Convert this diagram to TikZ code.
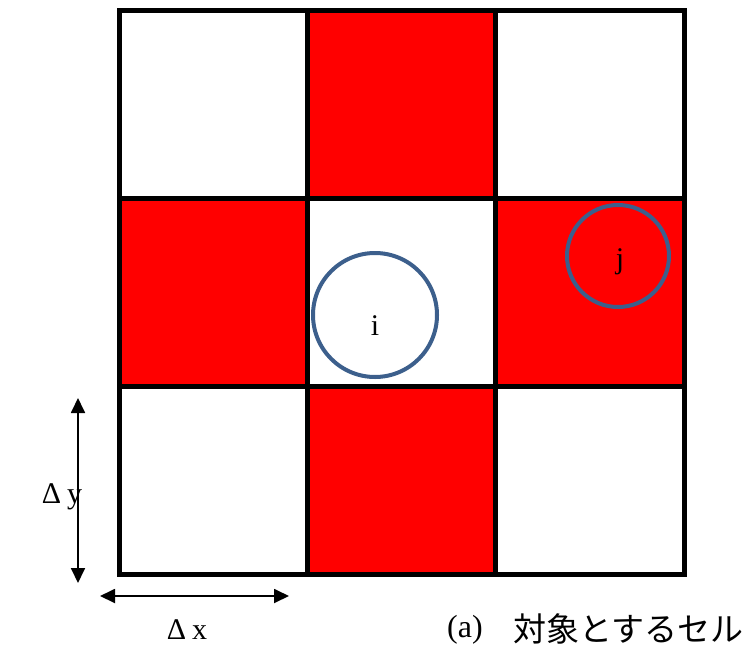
\documentclass[tikz,border=0pt]{standalone}
\usepackage{fontspec}
\setmainfont{Liberation Serif}
\newfontfamily\cjk{Noto Sans CJK JP}
\usetikzlibrary{arrows.meta}
\definecolor{cellred}{RGB}{255,0,0}
\definecolor{ringblue}{RGB}{60,95,140}
\begin{document}
\begin{tikzpicture}[x=1pt,y=-1pt,
  gridline/.style={line width=5pt,line join=miter},
  ring/.style={draw=ringblue,line width=4pt},
  dimarrow/.style={line width=1.8pt,{Triangle[length=15pt,width=14pt]}-{Triangle[length=15pt,width=14pt]}},
  lbl/.style={font=\fontsize{30}{34}\selectfont,inner sep=0pt}]
\useasboundingbox (0,0) rectangle (749,653);
% red cells
\fill[cellred] (307,10) rectangle (495,198);
\fill[cellred] (119,198) rectangle (307,386);
\fill[cellred] (495,198) rectangle (684,386);
\fill[cellred] (307,386) rectangle (495,574);
% grid
\draw[gridline] (119,10) rectangle (684,574);
\draw[gridline] (307,10) -- (307,574);
\draw[gridline] (495,10) -- (495,574);
\draw[gridline] (119,198) -- (684,198);
\draw[gridline] (119,386) -- (684,386);
% circles
\node[ring,circle,minimum size=124pt,inner sep=0pt] (i) at (375,315) {};
\node[lbl] at (375,326) {i};
\node[ring,circle,minimum size=102pt,inner sep=0pt] (j) at (618,256) {};
\node[lbl] at (620,262) {j};
% dimension arrows
\coordinate (yt) at (78,398);
\coordinate (yb) at (78,583);
\draw[dimarrow] (yt) -- (yb);
\coordinate (xl) at (100,596);
\coordinate (xr) at (289,596);
\draw[dimarrow] (xl) -- (xr);
\node[lbl] (dy) at (62,497) {Δ\hspace{6pt}y};
\node[lbl] (dx) at (187,630) {Δ\hspace{6pt}x};
\node[lbl,font=\fontsize{32}{36}\selectfont,anchor=west] (capa) at (447,630) {(a)};
\node[lbl,font=\fontsize{33}{38}\selectfont\cjk,anchor=west] (cap) at (513,629) {対象とするセル};
\end{tikzpicture}
\end{document}
